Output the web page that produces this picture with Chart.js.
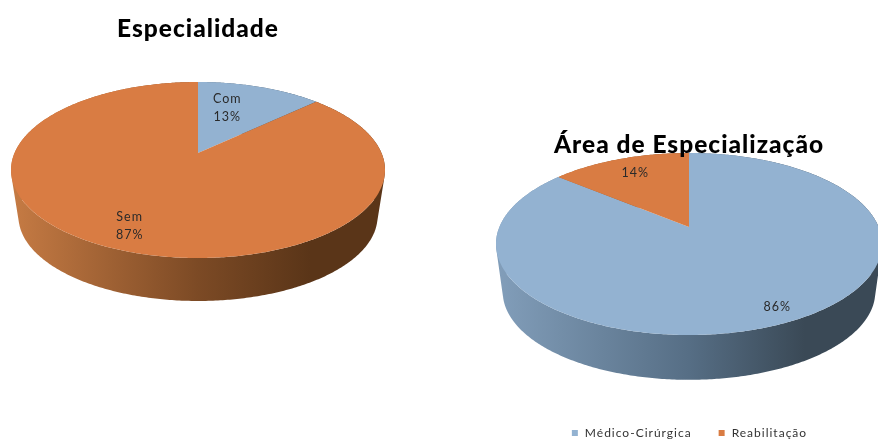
<!DOCTYPE html>
<html>
<head>
<meta charset="utf-8">
<title>Especialidade</title>
<script src="https://cdn.jsdelivr.net/npm/chart.js@4"></script>
<style>
  html, body { margin: 0; padding: 0; background: #fff; }
  body { position: relative; width: 878px; height: 439px; overflow: hidden; }
  canvas { position: absolute; top: 0; }
  #graficoEspecialidade { left: 0; }
  #graficoArea { left: 490px; }
</style>
</head>
<body>
<canvas id="graficoEspecialidade" width="396" height="439"></canvas>
<canvas id="graficoArea" width="398" height="449"></canvas>
<script>
const tituloEspecialidade = "Especialidade";
const categoriasEspecialidade = ["Com", "Sem"];
const valoresEspecialidade = [13, 87];

const tituloArea = "Área de Especialização";
const categoriasArea = ["Médico-Cirúrgica", "Reabilitação"];
const valoresArea = [86, 14];

const azul = "#93B2D1";
const laranja = "#D97C43";
const sombraAzul = ["#829EBA", "#566E85", "#3A4956"];
const sombraLaranja = ["#C67B44", "#7C4A25", "#5A3518"];

// the 3D look: ellipse of the top face, where the apex sits in it, and the wall below
const vistaEspecialidade = { centerY: 170, ry: 88, apexShift: -0.193, depth: 46.5, shrink: 0.96 };
const vistaArea = { centerY: 244, ry: 91, apexShift: -0.187, depth: 48, shrink: 0.965 };

// label spot per slice: fraction of the radius, then a sideways nudge in px
const rotulosEspecialidade = [[0.646, -13], [0.804, 0]];
const rotulosArea = [[0.86, 7], [0.767, 1]];

function pontoInclinado(cx, rx, vista, angulo, frac, base) {
  const k = vista.apexShift;
  const u = Math.cos(angulo) * frac;
  const v = Math.sin(angulo) * frac;
  const w = 1 + k * v;
  const s = base ? vista.shrink : 1;
  const cy = vista.centerY + (base ? vista.depth : 0);
  return {
    x: cx + rx * s * Math.sqrt(1 - k * k) * u / w,
    y: cy + vista.ry * s * (v + k) / w
  };
}

function areaComSinal(q) {
  let soma = 0;
  q.forEach((p, i) => {
    const n = q[(i + 1) % q.length];
    soma += p.x * n.y - n.x * p.y;
  });
  return soma;
}

class Pie3dController extends Chart.PieController {
  static id = "pie3d";

  draw() {
    const ctx = this.chart.ctx;
    const ds = this.getDataset();
    const vista = ds.vista;
    const arcos = this.getMeta().data;

    // side wall first, the top face covers whatever is behind it
    arcos.forEach((arco, i) => {
      const { x, outerRadius: rx, startAngle, endAngle } = arco;
      const sombra = ds.sombras[i];
      const grad = ctx.createLinearGradient(x - rx, 0, x + rx, 0);
      grad.addColorStop(0, sombra[0]);
      grad.addColorStop(0.5, sombra[1]);
      grad.addColorStop(0.8, sombra[2]);
      grad.addColorStop(1, sombra[2]);
      const passos = Math.ceil((endAngle - startAngle) * 90);
      ctx.beginPath();
      for (let p = 0; p < passos; p++) {
        const a0 = startAngle + (endAngle - startAngle) * p / passos;
        const a1 = startAngle + (endAngle - startAngle) * (p + 1) / passos;
        const quad = [
          pontoInclinado(x, rx, vista, a0, 1, false),
          pontoInclinado(x, rx, vista, a1, 1, false),
          pontoInclinado(x, rx, vista, a1, 1, true),
          pontoInclinado(x, rx, vista, a0, 1, true)
        ];
        // same winding everywhere, or front and back quads cancel out where they overlap
        if (areaComSinal(quad) < 0) quad.reverse();
        ctx.moveTo(quad[0].x, quad[0].y);
        ctx.lineTo(quad[1].x, quad[1].y);
        ctx.lineTo(quad[2].x, quad[2].y);
        ctx.lineTo(quad[3].x, quad[3].y);
        ctx.closePath();
      }
      ctx.fillStyle = grad;
      ctx.fill();
    });

    arcos.forEach((arco, i) => {
      const { x, outerRadius: rx, startAngle, endAngle } = arco;
      const apice = pontoInclinado(x, rx, vista, 0, 0, false);
      const passos = Math.ceil((endAngle - startAngle) * 90);
      ctx.beginPath();
      ctx.moveTo(apice.x, apice.y);
      for (let p = 0; p <= passos; p++) {
        const a = startAngle + (endAngle - startAngle) * p / passos;
        const q = pontoInclinado(x, rx, vista, a, 1, false);
        ctx.lineTo(q.x, q.y);
      }
      ctx.closePath();
      ctx.fillStyle = ds.backgroundColor[i];
      ctx.fill();
    });

    ctx.save();
    ctx.font = '12.5px Lato, sans-serif';
    ctx.fillStyle = "#2a2a2a";
    ctx.textAlign = "center";
    ctx.textBaseline = "middle";
    arcos.forEach((arco, i) => {
      const { x, outerRadius: rx, startAngle, endAngle } = arco;
      const [frac, nudge] = ds.rotulos[i];
      const p = pontoInclinado(x, rx, vista, (startAngle + endAngle) / 2, frac, false);
      const pct = ds.data[i] + "%";
      if (ds.mostrarNome) {
        ctx.fillText(this.chart.data.labels[i], p.x + nudge, p.y - 9);
        ctx.fillText(pct, p.x + nudge, p.y + 9);
      } else {
        ctx.fillText(pct, p.x + nudge, p.y);
      }
    });
    ctx.restore();
  }
}
Chart.register(Pie3dController);

const espacamento = {
  id: "espacamento",
  beforeUpdate(chart) {
    chart.ctx.letterSpacing = "1px";
    // title goes over the pie, its descenders touch the top face on the right chart
    const bloco = chart.titleBlock;
    if (bloco) bloco._layers = () => [{ z: 1, draw(area) { bloco.draw(area); } }];
  },
  beforeDraw(chart) { chart.ctx.letterSpacing = "1px"; }
};

function criarPizza(id, titulo, topoTitulo, labels, valores, cores, sombras, vista, rotulos, raio, mostrarNome, legenda) {
  return new Chart(document.getElementById(id), {
    type: "pie3d",
    plugins: [espacamento],
    data: {
      labels: labels,
      datasets: [{
        data: valores,
        backgroundColor: cores,
        sombras: sombras,
        vista: vista,
        rotulos: rotulos,
        mostrarNome: mostrarNome,
        radius: raio
      }]
    },
    options: {
      responsive: false,
      animation: false,
      events: [],
      plugins: {
        tooltip: { enabled: false },
        title: {
          display: true,
          text: titulo,
          color: "#000",
          font: { family: "Lato, sans-serif", size: 24.5, weight: "900" },
          padding: { top: topoTitulo, bottom: 0 }
        },
        legend: {
          display: legenda,
          position: "bottom",
          labels: {
            color: "#333",
            font: { family: "Lato, sans-serif", size: 12 },
            boxWidth: 8,
            boxHeight: 8,
            padding: 26
          }
        }
      }
    }
  });
}

criarPizza("graficoEspecialidade", tituloEspecialidade, 14, categoriasEspecialidade, valoresEspecialidade,
  [azul, laranja], [sombraAzul, sombraLaranja], vistaEspecialidade, rotulosEspecialidade, 187, true, false);
criarPizza("graficoArea", tituloArea, 130, categoriasArea, valoresArea,
  [azul, laranja], [sombraAzul, sombraLaranja], vistaArea, rotulosArea, 193, false, true);
</script>
</body>
</html>
